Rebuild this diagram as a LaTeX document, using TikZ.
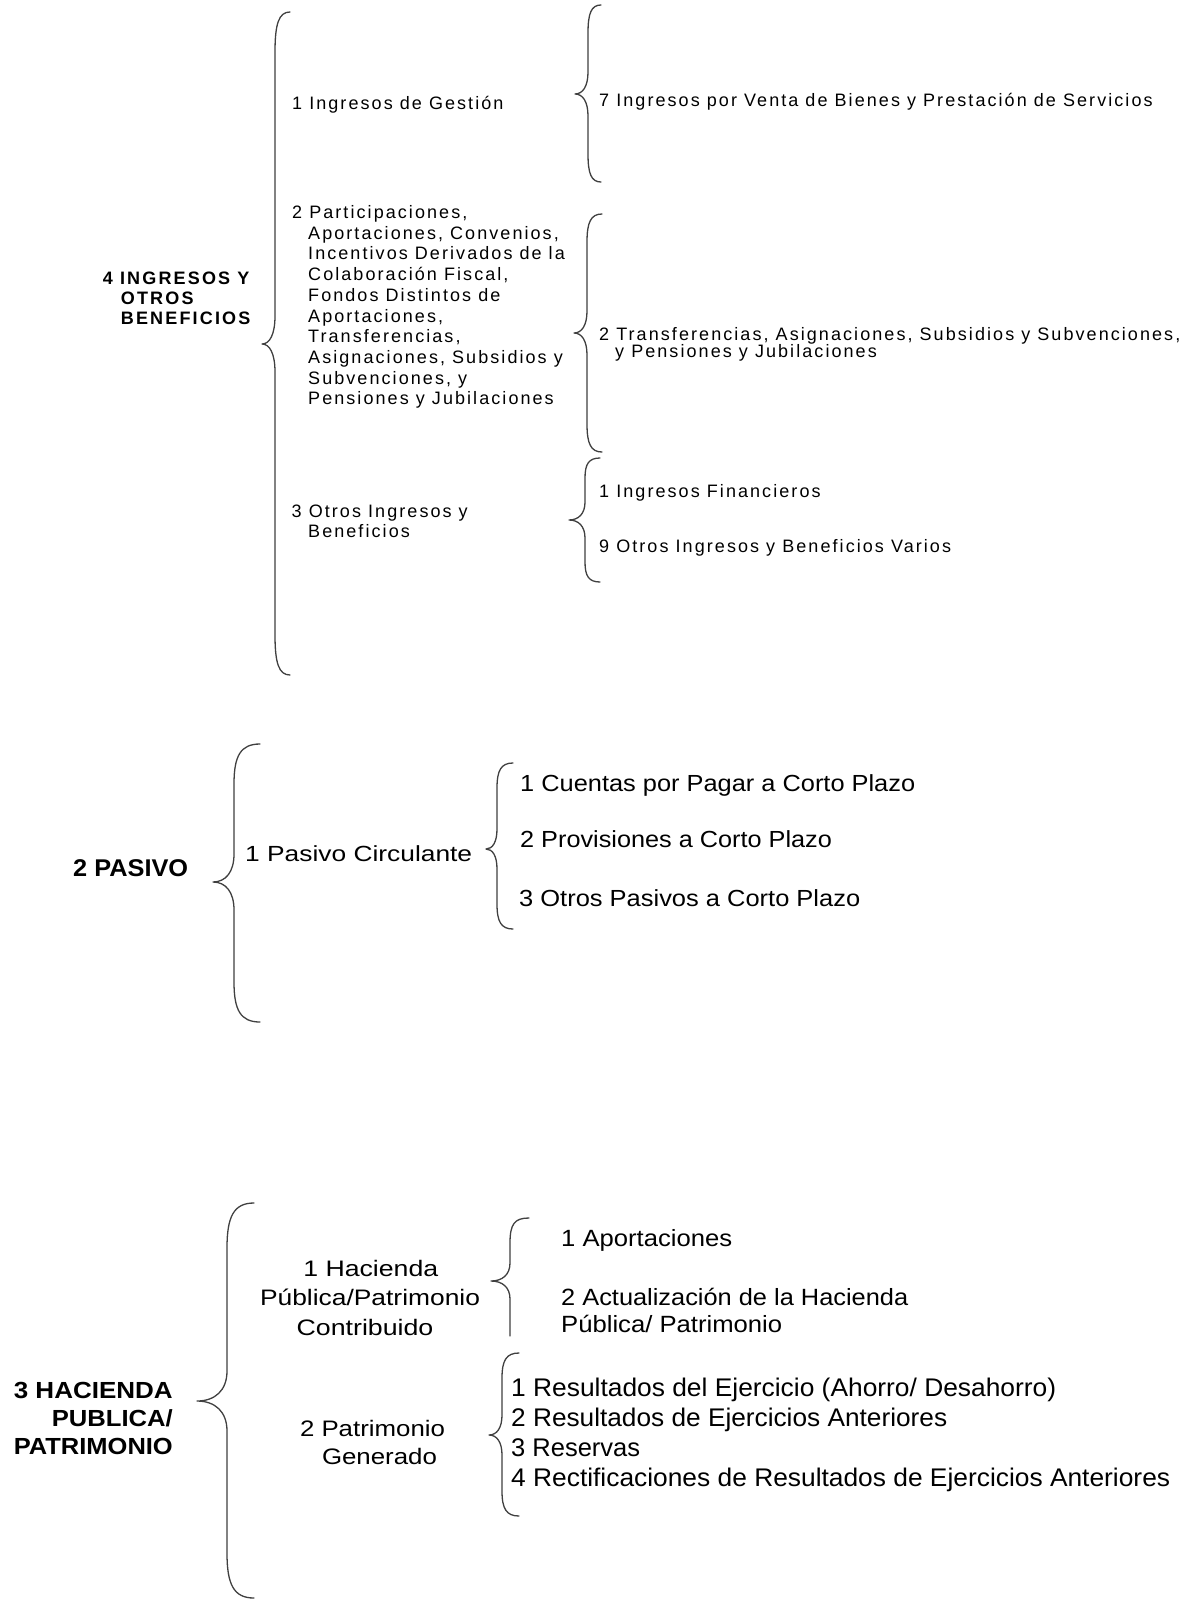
\documentclass[tikz,border=0pt]{standalone}
\usepackage{fontspec}
\usepackage{graphicx}
\setmainfont{Liberation Sans}
\newfontfamily\spaced{Liberation Sans}[LetterSpace=11.5]
\newfontfamily\spacedb{Liberation Sans}[LetterSpace=12]
\newsavebox\fwbox
% fit text to a given width (pt) by horizontal scaling
\newcommand\fw[2]{\sbox\fwbox{#2}\pgfmathsetmacro\fwr{#1/\the\wd\fwbox}\scalebox{\fwr}[1]{\usebox\fwbox}}
\tikzset{
  tt/.style={font=\spaced\fontsize{18}{20}\selectfont, inner sep=0pt, anchor=base west},
  th/.style={font=\spacedb\bfseries\fontsize{18}{20}\selectfont, inner sep=0pt, anchor=base west},
  bt/.style={font=\fontsize{#1}{#1}\selectfont, inner sep=0pt, anchor=base west},
  bc/.style={font=\fontsize{#1}{#1}\selectfont, inner sep=0pt, anchor=base},
  bh/.style={font=\bfseries\fontsize{#1}{#1}\selectfont, inner sep=0pt, anchor=base east},
  brl/.style={draw=black!75, line width=1.3pt, line cap=round, line join=round}
}
% curly brace: #1 x, #2 top, #3 tip y, #4 bottom, #5 tip x, #6 arm end x, #7 arm radius, #8 tip radius
\newcommand\cbrace[8]{%
  \draw[brl] (#6,#2) .. controls ({#1+0.25*(#6-#1)},#2) and (#1,{#2+0.3*#7}) .. (#1,{#2+#7})
    -- (#1,{#3-#8}) .. controls (#1,{#3-0.35*#8}) and ({#1-0.4*(#1-#5)},#3) .. (#5,#3)
    .. controls ({#1-0.4*(#1-#5)},#3) and (#1,{#3+0.35*#8}) .. (#1,{#3+#8})
    -- (#1,{#4-#7}) .. controls (#1,{#4-0.3*#7}) and ({#1+0.25*(#6-#1)},#4) .. (#6,#4);
}
\begin{document}
\begin{tikzpicture}[x=1pt,y=-1pt]
\useasboundingbox (0,0) rectangle (1180,1600);
\fill[white] (0,0) rectangle (1180,1600);

% ===== 4 INGRESOS Y OTROS BENEFICIOS =====
\node[th] (ing1) at (102.7,284.3) {4 INGRESOS Y};
\node[th] (ing2) at (120.7,304) {OTROS};
\node[th] (ing3) at (120.7,324) {BENEFICIOS};

\cbrace{275}{12}{344}{675}{262}{290}{40}{28}

\node[tt] (ges) at (292,109.3) {1 Ingresos de Gestión};
\node[tt] (par0) at (292,218.3) {2 Participaciones,};
\foreach \t [count=\i] in {{Aportaciones, Convenios,},{Incentivos Derivados de la},{Colaboración Fiscal,},{Fondos Distintos de},{Aportaciones,},{Transferencias,},{Asignaciones, Subsidios y},{Subvenciones, y},{Pensiones y Jubilaciones}}
  \node[tt] (par\i) at (308,{218.3+\i*20.74}) {\t};
\node[tt] (otr1) at (291.5,517.7) {3 Otros Ingresos y};
\node[tt] (otr2) at (308,537.7) {Beneficios};

\cbrace{588}{5}{94}{182}{575}{601}{28}{22}
\node[tt] (ven) at (599,107) {7 Ingresos por Venta de Bienes y Prestación de Servicios};

\cbrace{587}{214}{333}{452}{574}{602}{28}{22}
\node[tt] (tra1) at (599,340) {2 Transferencias, Asignaciones, Subsidios y Subvenciones,};
\node[tt] (tra2) at (615,357) {y Pensiones y Jubilaciones};

\cbrace{585}{458}{520}{582}{569}{600}{20}{18}
\node[tt] (fin) at (599,497.7) {1 Ingresos Financieros};
\node[tt] (var) at (599,552) {9 Otros Ingresos y Beneficios Varios};

% ===== 2 PASIVO =====
\node[bt=24.2, font=\bfseries\fontsize{24.2}{24.2}\selectfont] (pas) at (73,876.7) {\fw{115}{2 PASIVO}};
\cbrace{234}{744}{882}{1022}{213}{260}{40}{28}
\node[bt=21.9] (circ) at (245,861.7) {\fw{227}{1 Pasivo Circulante}};
\cbrace{497}{763}{849}{929}{486}{513}{25}{20}
\node[bt=23.3] (cue) at (520,791.7) {\fw{395}{1 Cuentas por Pagar a Corto Plazo}};
\node[bt=23.3] (prov) at (520,847.3) {\fw{311.7}{2 Provisiones a Corto Plazo}};
\node[bt=23.3] (opas) at (519,906) {\fw{341}{3 Otros Pasivos a Corto Plazo}};

% ===== 3 HACIENDA PUBLICA / PATRIMONIO =====
\node[bh=23.3] (hac1) at (173,1398.3) {\fw{159}{3 HACIENDA}};
\node[bh=23.3] (hac2) at (173,1426.7) {\fw{121}{PUBLICA/}};
\node[bh=23.3] (hac3) at (173,1454) {\fw{159}{PATRIMONIO}};
\cbrace{227}{1203}{1401}{1598}{197}{254}{45}{30}

\node[bc=22.4] (con1) at (370.8,1276) {\fw{135}{1 Hacienda}};
\node[bc=22.4] (con2) at (370,1305) {\fw{220}{Pública/Patrimonio}};
\node[bc=22.4] (con3) at (365,1335) {\fw{136.7}{Contribuido}};
\node[bc=22.4] (gen1) at (372.5,1436.7) {\fw{145}{2 Patrimonio}};
\node[bc=22.4] (gen2) at (379.5,1464.3) {\fw{115}{Generado}};

% brace with open bottom
\draw[brl] (529,1218) .. controls (514.5,1218) and (510,1224) .. (510,1243)
  -- (510,1263) .. controls (510,1275) and (502,1281) .. (491,1281)
  .. controls (502,1281) and (510,1287) .. (510,1299) -- (510,1336);
\node[bt=23.5] (apo) at (561,1246) {\fw{171}{1 Aportaciones}};
\node[bt=23.5] (act1) at (561,1305) {\fw{347}{2 Actualización de la Hacienda}};
\node[bt=23.5] (act2) at (561,1332.7) {\fw{221}{Pública/ Patrimonio}};

\cbrace{502}{1353}{1435}{1516}{489}{519}{25}{20}
\node[bt=25.5] (res1) at (511,1396) {\fw{545}{1 Resultados del Ejercicio (Ahorro/ Desahorro)}};
\node[bt=25.5] (res2) at (511,1426) {\fw{436}{2 Resultados de Ejercicios Anteriores}};
\node[bt=25.5] (res3) at (511,1456) {\fw{129}{3 Reservas}};
\node[bt=25.5] (res4) at (511,1486) {\fw{659}{4 Rectificaciones de Resultados de Ejercicios Anteriores}};
\end{tikzpicture}
\end{document}
